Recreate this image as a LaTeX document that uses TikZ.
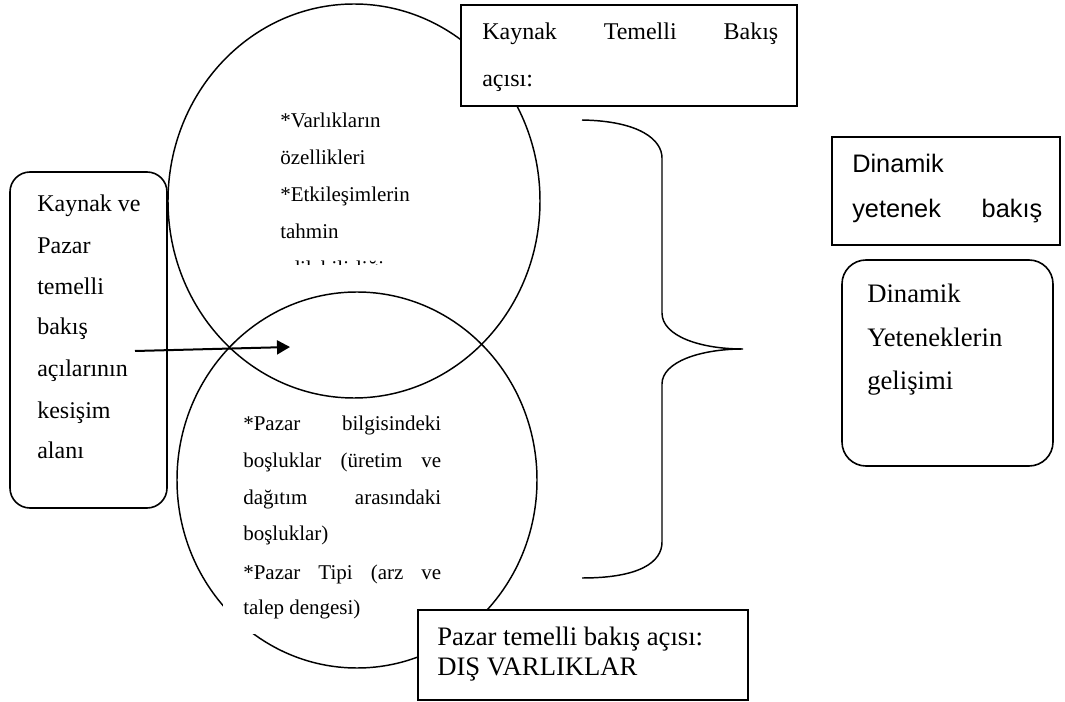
\documentclass[tikz,border=0pt]{standalone}
\usepackage{fontspec}
\setmainfont{Liberation Serif}
\newfontfamily\arialfont{Liberation Sans}
\usetikzlibrary{arrows.meta,shapes.geometric}
\begin{document}
\begin{tikzpicture}[x=0.75pt,y=-0.75pt,
  ring/.style={draw, ellipse, line width=1.1pt, inner sep=0pt},
  sqbox/.style={draw, fill=white, rectangle, line width=1.2pt, inner sep=0pt},
  rbox/.style={sqbox, rounded corners=15pt},
  lbl/.style={anchor=base west, inner sep=0pt},
  ctext/.style={font=\fontsize{15.75}{18}\selectfont},
  btext/.style={font=\fontsize{18}{21}\selectfont},
  mtext/.style={font=\fontsize{20}{23}\selectfont},
  rtext/.style={font=\fontsize{20}{23}\selectfont},
  stext/.style={font=\arialfont\fontsize{19}{22}\selectfont},
  ptr/.style={line width=1.5pt, -{Triangle[length=9.75pt,width=10.5pt]}}]
\useasboundingbox (0,0) rectangle (1065,702);

% the two overlapping views
\node[ring, minimum width=279pt, minimum height=295.5pt] (topC) at (354,201) {};
\node[ring, minimum width=270pt, minimum height=282pt] (botC) at (357,480) {};

% white backing of the lower text block
\fill[white] (223,400) rectangle (462,634);

% boxes
\node[sqbox, minimum width=252pt, minimum height=75.75pt] (rbv) at (629,55.5) {};
\node[sqbox, minimum width=171pt, minimum height=81pt] (dyb) at (946,191) {};
\node[rbox, rounded corners=18pt, minimum width=158.25pt, minimum height=154.5pt] (dyg) at (947.5,363) {};
\node[rbox, minimum width=117.75pt, minimum height=252pt] (kes) at (88.5,340) {};
\node[sqbox, minimum width=247.5pt, minimum height=67.5pt] (mbv) at (583,655) {};

% brace grouping both views
\draw[line width=1.1pt] (582,120) .. controls (640,121) and (662,140) .. (662,158)
  -- (662,313) .. controls (662,336) and (700,349) .. (743,349)
  .. controls (700,349) and (662,362) .. (662,384)
  -- (662,542) .. controls (662,562) and (640,578) .. (582,578);

% pointer to the intersection area
\coordinate (pS) at (135,351);
\coordinate (pE) at (290,347);
\draw[ptr] (pS) -- (pE);

% text of the upper view
\node[lbl, ctext] (t1) at (280,128) {*Varlıkların};
\node[lbl, ctext] (t2) at (280,165) {özellikleri};
\node[lbl, ctext] (t3) at (280,202) {*Etkileşimlerin};
\node[lbl, ctext] (t4) at (280,239) {tahmin};
\begin{scope}
  \clip (270,240) rectangle (420,265);
  \node[lbl, ctext] (t5) at (280,276) {edilebilirliği};
\end{scope}

% text of the lower view
\node[lbl, ctext] (b1) at (243,431) {\hbox to 148.5pt{*Pazar\hfill bilgisindeki}};
\node[lbl, ctext] (b2) at (243,468) {\hbox to 148.5pt{boşluklar\hfill(üretim\hfill ve}};
\node[lbl, ctext] (b3) at (243,504) {\hbox to 148.5pt{dağıtım\hfill arasındaki}};
\node[lbl, ctext] (b4) at (243,541) {boşluklar)};
\node[lbl, ctext] (b5) at (243,579) {\hbox to 148.5pt{*Pazar\hfill Tipi\hfill (arz\hfill ve}};
\node[lbl, ctext] (b6) at (243,614) {talep dengesi)};

% left box
\node[lbl, btext] (k1) at (37,212) {Kaynak ve};
\node[lbl, btext] (k2) at (37,254) {Pazar};
\node[lbl, btext] (k3) at (37,295) {temelli};
\node[lbl, btext] (k4) at (37,335) {bakış};
\node[lbl, btext] (k5) at (37,377) {açılarının};
\node[lbl, btext] (k6) at (37,419) {kesişim};
\node[lbl, btext] (k7) at (37,459) {alanı};

% resource based view title
\node[lbl, btext] (r1) at (482,40) {\hbox to 222pt{Kaynak\hfill Temelli\hfill Bakış}};
\node[lbl, btext] (r2) at (482,87) {açısı:};

% dynamic capability view
\node[lbl, stext] (d1) at (852,173) {Dinamik};
\node[lbl, stext] (d2) at (852,218) {\hbox to 142.5pt{yetenek\hfill bakış}};

% development of dynamic capabilities
\node[lbl, rtext] (g1) at (867,303) {Dinamik};
\node[lbl, rtext] (g2) at (867,347) {Yeteneklerin};
\node[lbl, rtext] (g3) at (867,390) {gelişimi};

% market based view title
\node[lbl, mtext] (m1) at (437,645) {Pazar temelli bakış açısı:};
\node[lbl, mtext] (m2) at (437,675) {DIŞ VARLIKLAR};
\end{tikzpicture}
\end{document}
